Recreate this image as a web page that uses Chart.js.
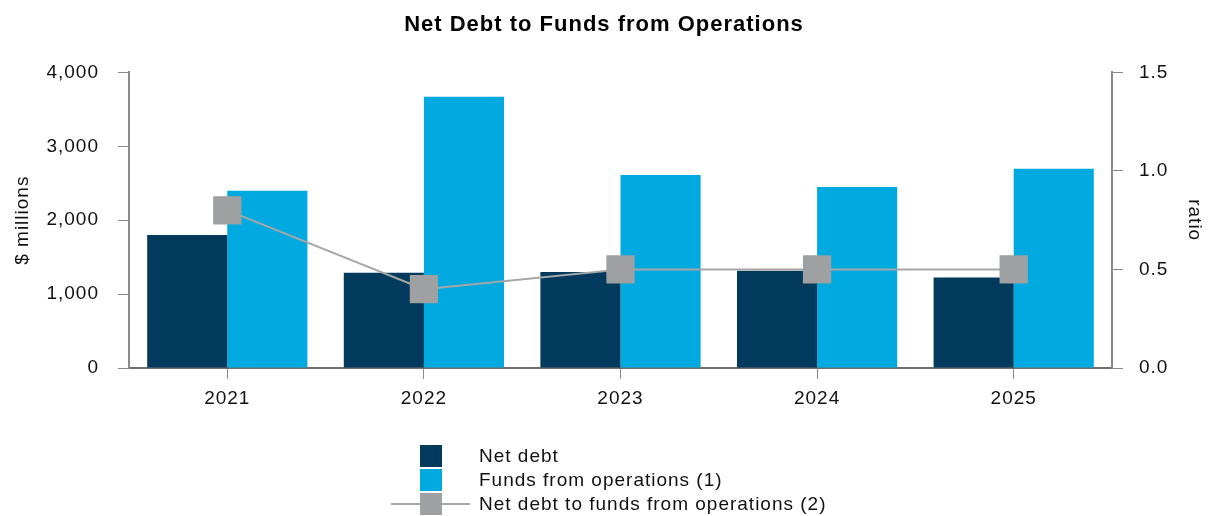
<!DOCTYPE html>
<html>
<head>
<meta charset="utf-8">
<script src="https://cdn.jsdelivr.net/npm/chart.js@4.4.1/dist/chart.umd.min.js"></script>
<style>
    html, body { margin: 0; padding: 0; background: #fff; }
    #wrap { position: relative; width: 1208px; height: 516px; }
    #legend {
        position: absolute; left: 391px; top: 444px;
        font-family: "Liberation Sans", Arial, sans-serif; font-size: 19px; letter-spacing: 1px; color: #111;
    }
    .legend-item { display: flex; align-items: center; height: 24px; }
    .legend-mark { position: relative; width: 79px; height: 24px; margin-right: 9px; }
    .legend-mark .box { position: absolute; left: 29px; top: 1px; width: 22px; height: 22px; }
    .legend-mark .line { position: absolute; left: 0; right: 0; top: 11px; height: 2px; }
</style>
</head>
<body>
<div id="wrap">
    <canvas id="chart" width="1208" height="516"></canvas>
    <div id="legend"></div>
</div>
<script>
const years = ['2021', '2022', '2023', '2024', '2025'];
const netDebt = [1800, 1290, 1300, 1315, 1225];
const fundsFromOps = [2400, 3670, 2610, 2450, 2695];
const debtToFfo = [0.8, 0.4, 0.5, 0.5, 0.5];

const FONT = '"Liberation Sans", Arial, sans-serif';
const AXIS_GREY = '#8a8a8a';

// the source lettering runs wide, so space the canvas text out a little
const wideText = {
    id: 'wideText',
    beforeUpdate(chart) { chart.ctx.letterSpacing = '1px'; },
    beforeDraw(chart) { chart.ctx.letterSpacing = '1px'; }
};

// legend is listed top to bottom, so it is built as html after the chart
const htmlLegend = {
    id: 'htmlLegend',
    afterUpdate(chart) {
        const el = document.getElementById('legend');
        el.innerHTML = chart.data.datasets.map(ds => {
            const line = ds.type === 'line'
                ? `<div class="line" style="background:${ds.borderColor}"></div>` : '';
            const fill = ds.type === 'line' ? ds.pointBackgroundColor : ds.backgroundColor;
            return `
                <div class="legend-item">
                    <div class="legend-mark">${line}<div class="box" style="background:${fill}"></div></div>
                    <span>${ds.label}</span>
                </div>`;
        }).join('');
    }
};

new Chart(document.getElementById('chart'), {
    type: 'bar',
    data: {
        labels: years,
        datasets: [
            {
                label: 'Net debt',
                data: netDebt,
                backgroundColor: '#023a5d',
                yAxisID: 'y',
                order: 1
            },
            {
                label: 'Funds from operations (1)',
                data: fundsFromOps,
                backgroundColor: '#00a9e0',
                yAxisID: 'y',
                order: 1
            },
            {
                type: 'line',
                label: 'Net debt to funds from operations (2)',
                data: debtToFfo,
                yAxisID: 'y1',
                borderColor: '#a5a7a8',
                borderWidth: 2,
                pointStyle: 'rect',
                pointRadius: 20,
                pointHoverRadius: 20,
                pointBorderWidth: 0,
                pointBackgroundColor: '#9ea0a1',
                tension: 0,
                order: 0
            }
        ]
    },
    options: {
        responsive: false,
        animation: false,
        barPercentage: 1,
        categoryPercentage: 0.815,
        layout: { padding: { left: 0, right: 0, top: 0, bottom: 102 } },
        plugins: {
            legend: { display: false },
            tooltip: { enabled: false },
            title: {
                display: true,
                text: 'Net Debt to Funds from Operations',
                color: '#000',
                font: { family: FONT, size: 22, weight: 'bold' },
                padding: { top: 12, bottom: 34 }
            }
        },
        scales: {
            x: {
                afterFit(scale) { scale.height = 46; },
                grid: { display: true, drawOnChartArea: false, offset: false, tickLength: 11, color: AXIS_GREY },
                border: { display: true, color: '#6e6e6e', width: 2 },
                ticks: { color: '#111', font: { family: FONT, size: 19 }, padding: 8 }
            },
            y: {
                position: 'left',
                min: 0,
                max: 4000,
                afterFit(scale) { scale.width = 129; },
                grid: { display: true, drawOnChartArea: false, tickLength: 11, color: AXIS_GREY },
                border: { display: true, color: AXIS_GREY, width: 2 },
                ticks: {
                    stepSize: 1000,
                    color: '#111',
                    padding: 19,
                    font: { family: FONT, size: 19 },
                    callback: v => v.toLocaleString('en-US')
                },
                title: {
                    display: true,
                    text: '$ millions',
                    color: '#111',
                    font: { family: FONT, size: 19 },
                    padding: { top: 11, bottom: 0 }
                }
            },
            y1: {
                position: 'right',
                min: 0,
                max: 1.5,
                afterFit(scale) { scale.width = 96; },
                grid: { display: true, drawOnChartArea: false, tickLength: 11, color: AXIS_GREY },
                border: { display: true, color: AXIS_GREY, width: 2 },
                ticks: {
                    stepSize: 0.5,
                    color: '#111',
                    padding: 16,
                    font: { family: FONT, size: 19 },
                    callback: v => v.toFixed(1)
                },
                title: {
                    display: true,
                    text: 'ratio',
                    color: '#111',
                    font: { family: FONT, size: 19 },
                    padding: { top: 2, bottom: 0 }
                }
            }
        }
    },
    plugins: [wideText, htmlLegend]
});
</script>
</body>
</html>
